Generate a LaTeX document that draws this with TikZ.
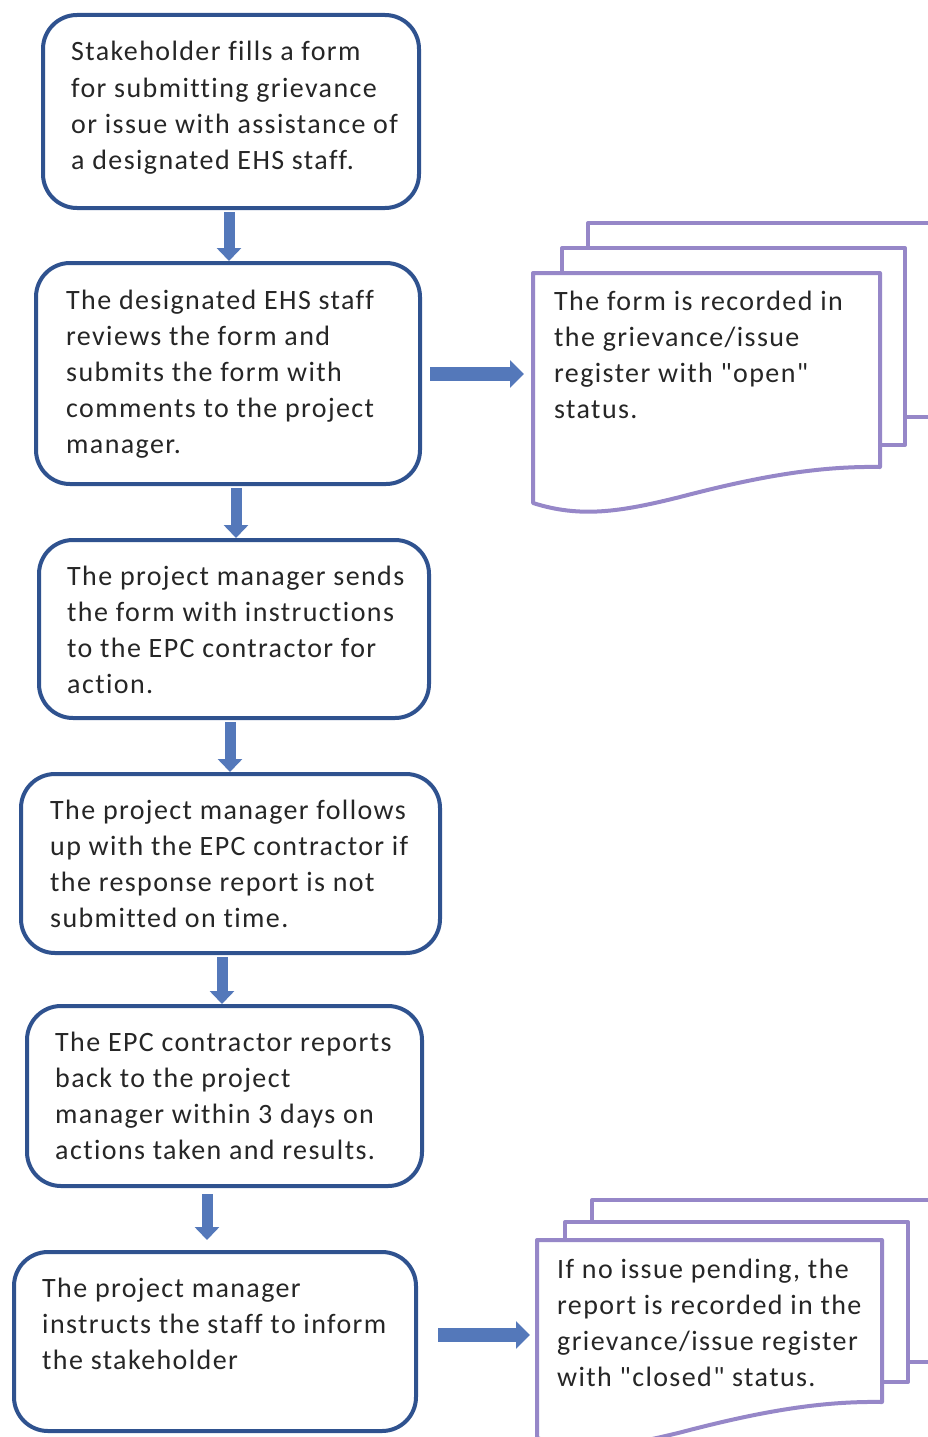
\documentclass[tikz,border=0pt]{standalone}
\usepackage{fontspec}
\setmainfont{Carlito}[Ligatures={TeXOff,NoCommon},LetterSpace=5]
\usetikzlibrary{arrows.meta}
\definecolor{boxblue}{RGB}{47,82,143}
\definecolor{arrowblue}{RGB}{84,120,186}
\definecolor{docpurple}{RGB}{150,135,200}
\definecolor{ink}{RGB}{38,38,38}
% left-aligned block of lines whose baseline is that of its first line
\newcommand\lines[1]{\begin{tabular}[t]{@{}l@{}}#1\end{tabular}}
\begin{document}
\begin{tikzpicture}[x=1pt,y=-1pt,
  stepbox/.style={draw=boxblue, line width=4pt, rounded corners=34pt, fill=white, inner sep=0pt},
  lbl/.style={anchor=base west, inner sep=0pt, text=ink, font=\fontsize{28}{36}\selectfont},
  varrow/.style={draw=arrowblue, line width=11pt, -{Triangle[width=24pt,length=13pt]}},
  harrow/.style={draw=arrowblue, line width=14pt, -{Triangle[width=27pt,length=14pt]}},
  page/.style={draw=docpurple, line width=4pt, fill=white, line join=round}]
\useasboundingbox (0,0) rectangle (928,1437);
\clip (0,0) rectangle (928,1437);

% process steps
\node[stepbox, minimum width=376pt, minimum height=193pt] (b1) at (231,111.5) {};
\node[stepbox, minimum width=384pt, minimum height=221pt] (b2) at (228,373.5) {};
\node[stepbox, minimum width=390pt, minimum height=178pt] (b3) at (234,629) {};
\node[stepbox, minimum width=419pt, minimum height=179pt] (b4) at (230.5,863.5) {};
\node[stepbox, minimum width=395pt, minimum height=180pt] (b5) at (224.5,1096) {};
\node[stepbox, minimum width=402pt, minimum height=179pt] (b6) at (215,1341.5) {};

\node[lbl] (t1) at (71,61) {\lines{Stakeholder fills a form\\for submitting grievance\\or issue with assistance of\\a designated EHS staff.}};
\node[lbl] (t2) at (66,309) {\lines{The designated EHS staff\\reviews the form and\\submits the form with\\comments to the project\\manager.}};
\node[lbl] (t3) at (67,585) {\lines{The project manager sends\\the form with instructions\\to the EPC contractor for\\action.}};
\node[lbl] (t4) at (50,819) {\lines{The project manager follows\\up with the EPC contractor if\\the response report is not\\submitted on time.}};
\node[lbl] (t5) at (55,1051) {\lines{The EPC contractor reports\\back to the project\\manager within 3 days on\\actions taken and results.}};
\node[lbl] (t6) at (42,1297) {\lines{The project manager\\instructs the staff to inform\\the stakeholder}};

% register documents (stacked pages)
\draw[page] (588,223) rectangle (960,417);
\draw[page] (562,248) rectangle (905,445);
\draw[page] (533,273) -- (880,273) -- (880,467)
  .. controls (820,466) and (760,476) .. (680,497)
  .. controls (620,512) and (580,518) .. (533,503) -- cycle;
\coordinate (d1w) at (533,374);
\node[lbl] (t7) at (554,310) {\lines{The form is recorded in\\the grievance/issue\\register with "open"\\status.}};

\draw[page] (592,1200) rectangle (960,1362);
\draw[page] (565,1222) rectangle (908,1382);
\draw[page] (537,1240) -- (882,1240) -- (882,1402)
  .. controls (822,1401) and (762,1411) .. (682,1432)
  .. controls (622,1447) and (582,1453) .. (537,1438) -- cycle;
\coordinate (d2w) at (537,1335);
\node[lbl] (t8) at (557,1278) {\lines{If no issue pending, the\\report is recorded in the\\grievance/issue register\\with "closed" status.}};

% connectors
\draw[varrow, shorten <=2pt] ([xshift=-2pt]b1.south) -- ([xshift=-2pt]b1.south |- b2.north);
\draw[varrow, shorten <=2pt] ([xshift=8pt]b2.south) -- ([xshift=8pt]b2.south |- b3.north);
\draw[varrow, shorten <=2pt] ([xshift=-4pt]b3.south) -- ([xshift=-4pt]b3.south |- b4.north);
\draw[varrow, shorten <=2pt] ([xshift=-8.5pt]b4.south) -- ([xshift=-8.5pt]b4.south |- b5.north);
\draw[varrow, shorten <=6pt, shorten >=10pt] ([xshift=-17.5pt]b5.south) -- ([xshift=-17.5pt]b5.south |- b6.north);
\draw[harrow, shorten <=8pt, shorten >=9pt] (b2.east |- d1w) -- (d1w);
\draw[harrow, shorten <=20pt, shorten >=7pt] (b6.east |- d2w) -- (d2w);
\end{tikzpicture}
\end{document}
